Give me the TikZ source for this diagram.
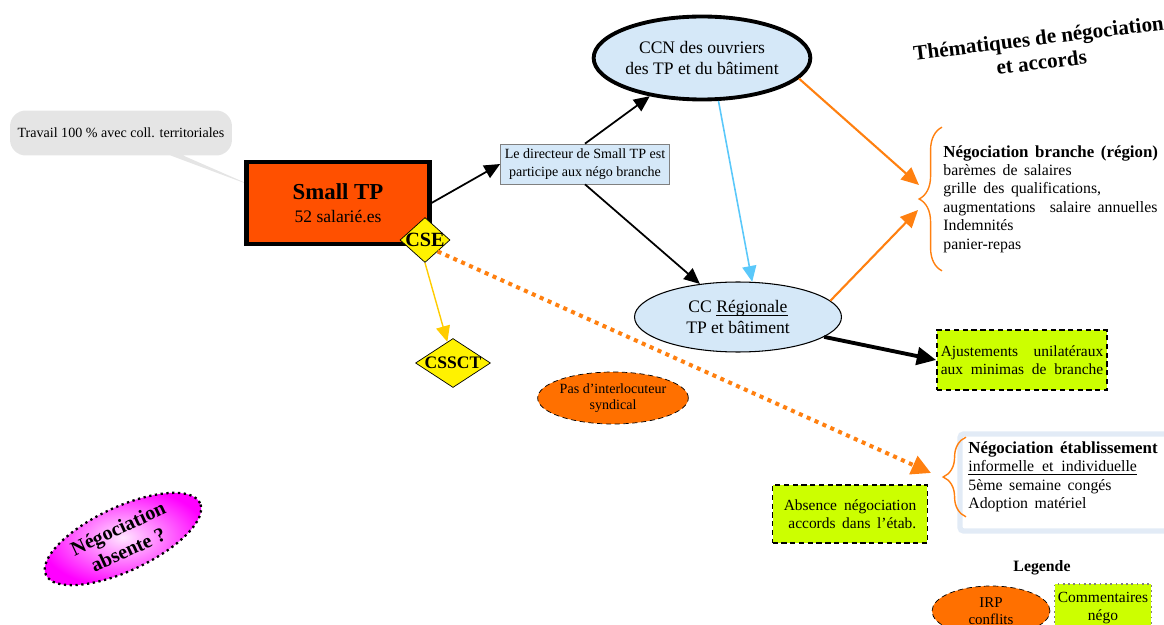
\documentclass[tikz,border=0pt]{standalone}
\usepackage{fontspec}
\setmainfont{Liberation Serif}
\usepackage{tikz}
\usetikzlibrary{arrows.meta,positioning,calc,decorations.pathreplacing,shapes.geometric,shapes.callouts}
\usepackage{xcolor}
\definecolor{smallorange}{RGB}{255,80,0}
\definecolor{conventionblue}{RGB}{213,232,248}
\definecolor{negogreen}{RGB}{204,255,0}
\definecolor{irporange}{RGB}{255,112,0}
\definecolor{arroworange}{RGB}{255,128,16}
\definecolor{skyarrow}{RGB}{90,200,250}
\definecolor{cssegold}{RGB}{255,204,0}
\definecolor{panelblue}{RGB}{226,235,246}
\definecolor{bubblegray}{RGB}{229,229,229}
\newcommand{\widewords}{\spaceskip=0.42em\relax}
\newcommand{\souligne}[1]{\leavevmode\setbox0\hbox{#1}\rlap{\rule[-1.6pt]{\wd0}{0.5pt}}\box0}

\begin{document}
\begin{tikzpicture}[
    x=0.02cm, y=-0.02cm,
    convention/.style={ellipse,draw,fill=conventionblue,align=center,inner sep=0pt,font=\fontsize{10}{11.5}\selectfont},
    irp/.style={ellipse,draw,densely dashed,fill=irporange,align=center,inner sep=0pt,font=\fontsize{8.5}{9.8}\selectfont},
    nego/.style={draw,line width=1pt,densely dashed,fill=negogreen,align=left,inner sep=0pt,font=\fontsize{8.8}{10.2}\selectfont},
    instance/.style={diamond,draw,fill=yellow,inner sep=0pt,font=\bfseries},
    theme/.style={align=left,inner sep=0pt,font=\fontsize{9}{10.5}\selectfont},
    themebrace/.style={draw=arroworange,thick,decorate,decoration={brace,amplitude=13pt}},
    bubble/.style={rectangle callout,fill=bubblegray,rounded corners=9pt,minimum width=4.44cm,minimum height=0.9cm,inner sep=0pt,font=\fontsize{8}{9.5}\selectfont},
    >={Triangle[length=9pt,width=8pt]}
]
\useasboundingbox (0,0) rectangle (1164,625);

% Entreprise
\coordinate (tail) at (255,187);
\node[bubble,callout absolute pointer={(tail)}] (travail) at (121,133) {Travail 100 \% avec coll. territoriales};
\node[draw,line width=2.3pt,fill=smallorange,minimum width=3.66cm,minimum height=1.64cm,align=center,font=\fontsize{10}{12}\selectfont] (smalltp) at (338,203) {{\fontsize{13}{14}\selectfont\bfseries Small TP}\\[1pt]52 salarié.es};
\node[instance,minimum width=1cm,minimum height=0.9cm,font=\fontsize{11.5}{12}\selectfont\bfseries] (cse) at (425,240) {\makebox[0pt]{CSE}};
\node[instance,minimum width=1.5cm,minimum height=0.98cm,font=\fontsize{10}{11}\selectfont\bfseries] (cssct) at (453,363) {\makebox[0pt]{CSSCT}};
\draw[->,cssegold,line width=0.8pt] (cse.south) -- (cssct.105);

% Branche
\node[draw=gray,fill=conventionblue,minimum width=3.38cm,minimum height=0.8cm,inner sep=1pt,align=center,font=\fontsize{8}{10}\selectfont] (directeur) at (585,164) {Le directeur de Small TP est\\participe aux négo branche};
\node[convention,line width=2.2pt,minimum width=4.06cm,minimum height=1.66cm] (ccn) at (702,58) {CCN des ouvriers\\des TP et du bâtiment};
\node[convention,line width=0.6pt,minimum width=4.14cm,minimum height=1.4cm] (ccreg) at (738,317) {CC \souligne{Régionale}\\TP et bâtiment};
\draw[->,line width=1pt] (smalltp.east) -- (directeur.west);
\draw[->,line width=1pt] (directeur.north) -- (ccn);
\draw[->,line width=1pt] (directeur.south) -- (ccreg);
\draw[->,skyarrow,line width=0.9pt] (ccn.291) -- (ccreg.68);

% Themes
\node[font=\fontsize{12}{14}\selectfont\bfseries,align=center,rotate=7] (titre) at (1040,50) {Thématiques de négociation\\et accords};
\node[theme,text width=4.4cm,minimum height=2.86cm,anchor=west] (branche) at (943,199) {\widewords{\fontsize{9.6}{10.5}\selectfont\bfseries Négociation branche (région)}\\barèmes de salaires\\grille des qualifications,\\augmentations\hspace{0.9em}salaire annuelles\\Indemnités\\panier-repas};
\draw[themebrace] ($(branche.south west)+(-1,0)$) -- ($(branche.north west)+(-1,0)$);
\coordinate (btip) at ($(branche.west)+(-24,0)$);
\draw[->,arroworange,line width=1.2pt,>={Triangle[length=10pt,width=9pt]}] (ccn.348) -- ($(btip)+(0,-14)$);
\draw[->,arroworange,line width=1.2pt,>={Triangle[length=10pt,width=9pt]}] (ccreg.10) -- ($(btip)+(-1,11)$);

\node[nego,minimum width=3.4cm,minimum height=1.2cm,text width=3.25cm] (ajust) at (1022,360) {Ajustements\hfill unilatéraux\\aux\hfill minimas\hfill de\hfill branche};
\draw[->,line width=2.2pt,>={Triangle[length=11pt,width=10pt]}] (ccreg.347) -- (ajust.west);

% Etablissement
\draw[panelblue,line width=3pt,rounded corners=2pt] (960,434) rectangle (1172,531);
\node[theme,text width=3.9cm,minimum height=1.58cm,anchor=west] (etab) at (968,477) {\widewords{\fontsize{9.6}{10.5}\selectfont\bfseries Négociation établissement}\\\souligne{informelle\hspace{0.5em}et\hspace{0.5em}individuelle}\\5ème semaine congés\\Adoption matériel};
\draw[themebrace] ($(etab.south west)+(-2,0)$) -- ($(etab.north west)+(-2,0)$);
\coordinate (etip) at ($(etab.west)+(-25,0)$);
\draw[->,arroworange,line width=2.3pt,dash pattern=on 2.3pt off 2.6pt,>={Triangle[length=11pt,width=11pt]}] (cse.south east) -- ($(etip)+(-12,-4)$);

\node[irp,minimum width=2.54cm,minimum height=1.04cm,font=\fontsize{8}{9.5}\selectfont] (interlocuteur) at (613,398) {Pas d'interlocuteur\\syndical};
\node[nego,minimum width=3.1cm,minimum height=1.16cm,text width=2.65cm] (absence) at (850,514) {Absence\hfill négociation\\\hspace*{0.3em}accords\hfill dans\hfill l'étab.\hspace*{0.3em}};
\node[ellipse,draw,dotted,line width=1.3pt,shading=radial,inner color=magenta!10,outer color=magenta,rotate=25,minimum width=3.4cm,minimum height=1.28cm,inner sep=0pt,align=center,font=\fontsize{11.5}{13.5}\selectfont\bfseries] (absente) at (123,539) {Négociation\\absente ?};

% Legende
\node[font=\fontsize{9}{10}\selectfont\bfseries] (legende) at (1042,568) {Legende};
\node[irp,minimum width=2.36cm,minimum height=1cm] (irp) at (991,611) {IRP\\conflits};
\node[nego,draw=gray,dotted,align=center,minimum width=1.94cm,minimum height=0.96cm] (commentaires) at (1103,608) {Commentaires\\négo};
\end{tikzpicture}
\end{document}
